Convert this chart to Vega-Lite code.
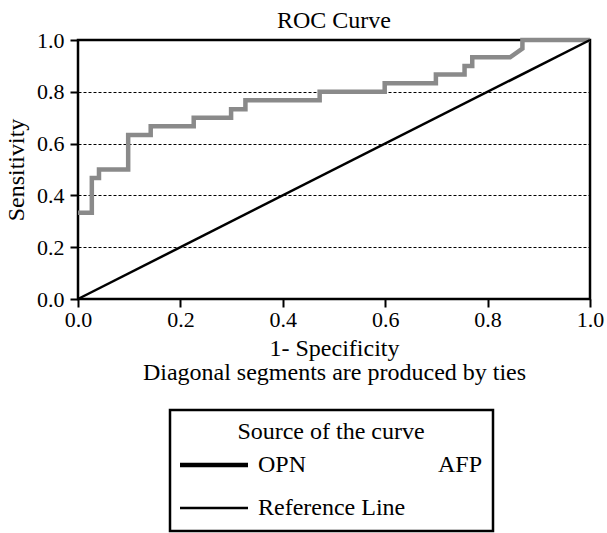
{
  "$schema": "https://vega.github.io/schema/vega-lite/v6.json",
  "width": 512,
  "height": 259,
  "autosize": {"type": "none"},
  "padding": {"left": 78, "top": 40, "right": 17, "bottom": 234},
  "title": {"text": "ROC Curve", "font": "Liberation Serif", "fontSize": 24, "fontWeight": "normal", "color": "black", "anchor": "middle", "offset": -4},
  "config": {
    "view": {"stroke": "black", "strokeWidth": 2.5},
    "axis": {"labelFont": "Liberation Serif", "titleFont": "Liberation Serif", "labelColor": "black", "titleColor": "black", "titleFontWeight": "normal", "labelFontSize": 22, "titleFontSize": 24, "tickColor": "black", "tickWidth": 2, "tickSize": 8, "domain": false}
  },
  "layer": [
    {
      "data": {"values": [
        {"i": 1, "fpr": 0, "tpr": 0.333, "source": "AFP"},
        {"i": 2, "fpr": 0.027, "tpr": 0.333, "source": "AFP"},
        {"i": 3, "fpr": 0.027, "tpr": 0.467, "source": "AFP"},
        {"i": 4, "fpr": 0.041, "tpr": 0.467, "source": "AFP"},
        {"i": 5, "fpr": 0.041, "tpr": 0.5, "source": "AFP"},
        {"i": 6, "fpr": 0.098, "tpr": 0.5, "source": "AFP"},
        {"i": 7, "fpr": 0.098, "tpr": 0.633, "source": "AFP"},
        {"i": 8, "fpr": 0.142, "tpr": 0.633, "source": "AFP"},
        {"i": 9, "fpr": 0.142, "tpr": 0.667, "source": "AFP"},
        {"i": 10, "fpr": 0.226, "tpr": 0.667, "source": "AFP"},
        {"i": 11, "fpr": 0.226, "tpr": 0.7, "source": "AFP"},
        {"i": 12, "fpr": 0.299, "tpr": 0.7, "source": "AFP"},
        {"i": 13, "fpr": 0.299, "tpr": 0.733, "source": "AFP"},
        {"i": 14, "fpr": 0.327, "tpr": 0.733, "source": "AFP"},
        {"i": 15, "fpr": 0.327, "tpr": 0.767, "source": "AFP"},
        {"i": 16, "fpr": 0.472, "tpr": 0.767, "source": "AFP"},
        {"i": 17, "fpr": 0.472, "tpr": 0.8, "source": "AFP"},
        {"i": 18, "fpr": 0.599, "tpr": 0.8, "source": "AFP"},
        {"i": 19, "fpr": 0.599, "tpr": 0.833, "source": "AFP"},
        {"i": 20, "fpr": 0.699, "tpr": 0.833, "source": "AFP"},
        {"i": 21, "fpr": 0.699, "tpr": 0.867, "source": "AFP"},
        {"i": 22, "fpr": 0.755, "tpr": 0.867, "source": "AFP"},
        {"i": 23, "fpr": 0.755, "tpr": 0.9, "source": "AFP"},
        {"i": 24, "fpr": 0.77, "tpr": 0.9, "source": "AFP"},
        {"i": 25, "fpr": 0.77, "tpr": 0.933, "source": "AFP"},
        {"i": 26, "fpr": 0.844, "tpr": 0.933, "source": "AFP"},
        {"i": 27, "fpr": 0.868, "tpr": 0.967, "source": "AFP"},
        {"i": 28, "fpr": 0.868, "tpr": 1.0, "source": "AFP"},
        {"i": 29, "fpr": 1.0, "tpr": 1.0, "source": "AFP"}
      ]},
      "mark": {"type": "line", "strokeWidth": 4.5, "strokeCap": "butt", "strokeJoin": "miter"},
      "encoding": {
        "x": {"field": "fpr", "type": "quantitative", "scale": {"domain": [0, 1], "nice": false, "zero": false},
          "axis": {"values": [0, 0.2, 0.4, 0.6, 0.8, 1.0], "format": ".1f", "grid": false, "labelPadding": 2, "labelFlush": false,
            "title": ["1- Specificity", "Diagonal segments are produced by ties"], "titleLineHeight": 24, "titlePadding": 6}},
        "y": {"field": "tpr", "type": "quantitative", "scale": {"domain": [0, 1], "nice": false},
          "axis": {"values": [0, 0.2, 0.4, 0.6, 0.8, 1.0], "format": ".1f", "grid": true, "gridColor": "black", "gridDash": [3, 2], "gridWidth": 1, "labelPadding": 6, "labelFlush": false, "title": "Sensitivity", "titlePadding": 8}},
        "order": {"field": "i", "type": "quantitative"},
        "color": {"field": "source", "type": "nominal",
          "scale": {"domain": ["OPN", "AFP", "Reference Line"], "range": ["black", "#8a8a8a", "black"]},
          "legend": {
            "title": "Source of the curve",
            "orient": "none", "legendX": 92, "legendY": 370, "direction": "horizontal",
            "columns": 2, "gridAlign": "none", "columnPadding": -46, "rowPadding": 17, "clipHeight": 26,
            "symbolType": "stroke", "symbolSize": 4624, "symbolStrokeWidth": 4, "symbolOffset": 22,
            "labelFont": "Liberation Serif", "labelFontSize": 24, "labelColor": "black", "labelOffset": 32, "labelLimit": 300,
            "titleFont": "Liberation Serif", "titleFontSize": 24, "titleFontWeight": "normal", "titleColor": "black", "titleAnchor": "middle", "titlePadding": 8, "titleLimit": 400,
            "strokeColor": "black", "padding": 10,
            "encode": {
              "symbols": {"update": {
                "size": {"value": 4624},
                "strokeOpacity": {"signal": "datum.value === 'AFP' ? 0 : 1"},
                "strokeWidth": {"signal": "datum.value === 'Reference Line' ? 2.5 : 4.5"}
              }},
              "legend": {"update": {"strokeWidth": {"value": 2.5}}}
            }
          }}
      }
    },
    {
      "data": {"values": [
        {"fpr": 0, "tpr": 0, "source": "Reference Line"},
        {"fpr": 1, "tpr": 1, "source": "Reference Line"}
      ]},
      "mark": {"type": "line", "strokeWidth": 2.5},
      "encoding": {
        "x": {"field": "fpr", "type": "quantitative"},
        "y": {"field": "tpr", "type": "quantitative"},
        "color": {"field": "source", "type": "nominal"}
      }
    }
  ]
}
